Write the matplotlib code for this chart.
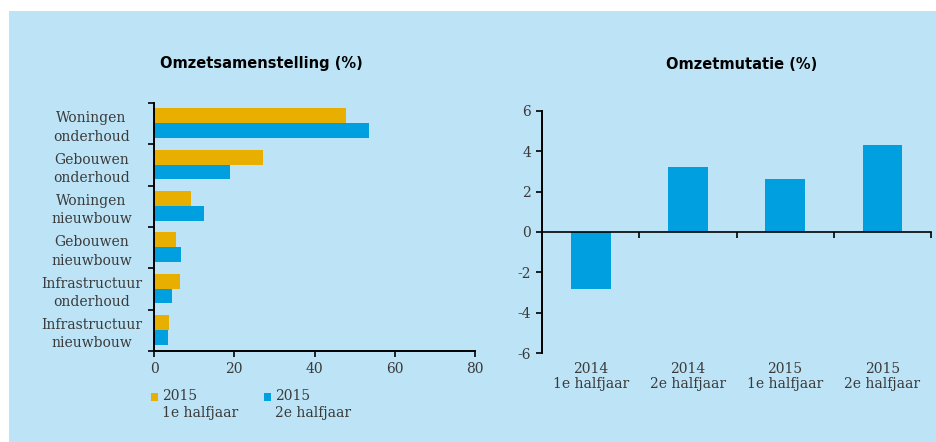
import numpy as np
import matplotlib
matplotlib.use('Agg')
import matplotlib.pyplot as plt
from matplotlib.patches import Rectangle

plt.rcParams['font.family'] = ['DejaVu Serif']
plt.rcParams['axes.unicode_minus'] = False

# data
categorieen = ['Woningen\nonderhoud', 'Gebouwen\nonderhoud', 'Woningen\nnieuwbouw',
               'Gebouwen\nnieuwbouw', 'Infrastructuur\nonderhoud', 'Infrastructuur\nnieuwbouw']
h1_2015 = [47.8, 27.1, 9.1, 5.4, 6.5, 3.7]
h2_2015 = [53.6, 18.9, 12.4, 6.6, 4.5, 3.4]
serie_labels = ['2015\n1e halfjaar', '2015\n2e halfjaar']

perioden = ['2014\n1e halfjaar', '2014\n2e halfjaar', '2015\n1e halfjaar', '2015\n2e halfjaar']
mutatie = [-2.8, 3.2, 2.6, 4.3]

oranje = '#E8AE00'
blauw = '#009FDF'
achtergrond = '#BDE4F6'
tekst = '#3a3a3a'
fs = 10

fig = plt.figure(figsize=(9.37, 4.42), dpi=100)
fig.patch.set_facecolor('white')
fig.patches.append(Rectangle((9 / 937, 0), 1, 1 - 11 / 442, transform=fig.transFigure,
                             facecolor=achtergrond, edgecolor='none', zorder=-10))

# linker grafiek
ax1 = fig.add_axes([0.1644, 0.2059, 0.3425, 0.561])
ax1.set_facecolor('none')
y = np.arange(len(categorieen))
hb = 0.36
ax1.barh(y - hb / 2 - 0.01, h1_2015, height=hb, color=oranje)
ax1.barh(y + hb / 2 - 0.01, h2_2015, height=hb, color=blauw)
ax1.set_xlim(0, 80)
ax1.set_ylim(len(categorieen) - 0.5, -0.5)
ax1.set_xticks([0, 20, 40, 60, 80])
ax1.set_yticks(np.arange(-0.5, len(categorieen)))
ax1.set_yticklabels([])
ax1.set_yticks(y, minor=True)
ax1.set_yticklabels(categorieen, minor=True, ha='center', multialignment='center',
                    linespacing=1.4)
ax1.tick_params(axis='y', which='minor', length=0, pad=45, labelsize=fs, labelcolor=tekst)
ax1.tick_params(axis='y', which='major', length=4, width=1.2)
ax1.tick_params(axis='x', length=4, width=1.2, labelsize=fs, labelcolor=tekst, pad=4)
for s in ['top', 'right']:
    ax1.spines[s].set_visible(False)
for s in ['left', 'bottom']:
    ax1.spines[s].set_linewidth(1.4)
ax1.set_title('Omzetsamenstelling (%)', fontsize=10.5, fontweight='bold',
              family=['DejaVu Sans'], pad=25, x=0.333)

# legenda
for i, (lab, kl) in enumerate(zip(serie_labels, [oranje, blauw])):
    x0 = (151 + i * 113) / 937
    fig.patches.append(Rectangle((x0, 1 - 401 / 442), 7 / 937, 8 / 442,
                                 transform=fig.transFigure, facecolor=kl, edgecolor='none'))
    fig.text(x0 + 11 / 937, 1 - 389 / 442, lab, ha='left', va='top', fontsize=fs,
             color=tekst, linespacing=1.3)

# rechter grafiek
ax2 = fig.add_axes([0.5788, 0.2007, 0.4145, 0.549])
ax2.set_facecolor('none')
x = np.arange(len(perioden))
ax2.bar(x, mutatie, width=0.405, color=blauw)
ax2.set_xlim(-0.5, len(perioden) - 0.5)
ax2.set_ylim(-6, 6)
ax2.set_yticks(np.arange(-6, 7, 2))
ax2.set_xticks(np.arange(0.5, len(perioden)))
ax2.set_xticklabels([])
ax2.spines['bottom'].set_position(('data', 0))
for s in ['top', 'right']:
    ax2.spines[s].set_visible(False)
ax2.spines['left'].set_linewidth(1.4)
ax2.spines['bottom'].set_linewidth(1.2)
ax2.tick_params(axis='x', length=4, width=1.2)
ax2.tick_params(axis='y', length=4, width=1.2, labelsize=fs, labelcolor=tekst, pad=4)
trans = matplotlib.transforms.blended_transform_factory(ax2.transData, ax2.transAxes)
for xi, lab in zip(x, perioden):
    ax2.text(xi, -0.035, lab, transform=trans, ha='center', va='top', fontsize=fs,
             color=tekst, linespacing=1.1)
ax2.set_title('Omzetmutatie (%)', fontsize=10.5, fontweight='bold',
              family=['DejaVu Sans'], pad=30, x=0.513)

fig.savefig('out.png', dpi=100)
